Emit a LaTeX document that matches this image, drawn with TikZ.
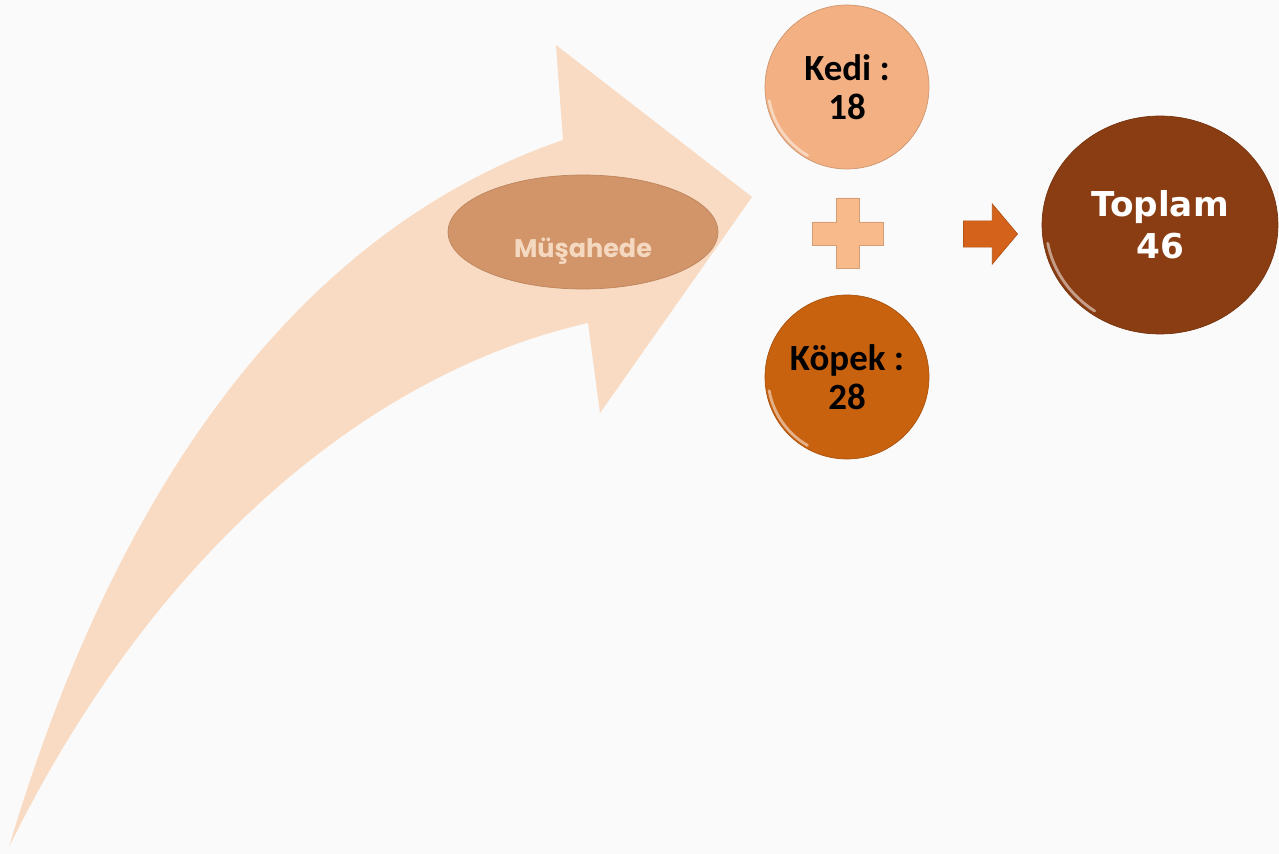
\documentclass[tikz,border=0pt]{standalone}
\usepackage{fontspec}
\usepackage{tikz}
\usetikzlibrary{positioning,shapes.geometric,shapes.arrows}
\newfontfamily\kedifont{Carlito}
\newfontfamily\sumfont{DejaVu Sans}
\newfontfamily\obsfont{Poppins}
\definecolor{bgpaper}{HTML}{FAFAFA}
\definecolor{bandpeach}{HTML}{F8DBC2}
\definecolor{obsfill}{HTML}{D29469}
\definecolor{obstext}{HTML}{F4D9C0}
\definecolor{catfill}{HTML}{F2B083}
\definecolor{dogfill}{HTML}{C9620F}
\definecolor{sumfill}{HTML}{8A3D12}
\definecolor{plusfill}{HTML}{F9BA8B}
\definecolor{eqfill}{HTML}{D4621A}

\begin{document}
\begin{tikzpicture}[
      x={(0.02cm,0)}, y={(0,-0.02cm)},
      part/.style={circle, minimum size=3.28cm, inner sep=0pt,
        align=center, font=\kedifont\bfseries\fontsize{21}{22}\selectfont},
      total/.style={ellipse, minimum width=4.72cm, minimum height=4.36cm,
        inner sep=0pt, align=center, text=white,
        font=\sumfont\bfseries\fontsize{19.5}{24}\selectfont},
      obs/.style={ellipse, minimum width=5.4cm, minimum height=2.28cm,
        fill=obsfill, draw=obsfill!90!black, text=obstext,
        text height=1.02cm, text depth=0pt,
        font=\obsfont\bfseries\fontsize{14.5}{16}\selectfont},
      eq/.style={single arrow, minimum height=1.08cm, minimum width=1.2cm,
        single arrow head extend=0.24cm, single arrow tip angle=100,
        inner xsep=0pt, inner ysep=0.18cm, fill=eqfill, draw=eqfill!85!black},
      gloss/.style={white, opacity=0.5, line width=1.6pt, line cap=round}]

    % page
    \fill[bgpaper] (0,0) rectangle (1279,854);
    \useasboundingbox (0,0) rectangle (1279,854);

    % big curved arrow
    \fill[bandpeach] (9,847) .. controls (130,440) and (330,220) .. (563,140)
      -- (556,45) -- (752,197) -- (600,413) -- (588,323)
      .. controls (380,370) and (160,540) .. (9,847) -- cycle;
    \node[obs] (obs) at (583,232) {Müşahede};

    % the two counts
    \node[part, fill=catfill, draw=catfill!85!black] (kedi) at (847,87)
      {Kedi :\\18};
    \node[part, fill=dogfill, draw=dogfill!85!black] (kopek) at (847,377)
      {Köpek :\\28};
    \draw[gloss] ([shift={(190:1.58cm)}]kedi.center)
      arc[start angle=190, end angle=240, radius=1.58cm];
    \draw[gloss] ([shift={(190:1.58cm)}]kopek.center)
      arc[start angle=190, end angle=240, radius=1.58cm];

    % plus between them
    \fill[plusfill, draw=plusfill!85!black, line width=0.3pt]
      (836,198) -- (859,198) -- (859,222) -- (883,222) -- (883,245)
      -- (859,245) -- (859,268) -- (836,268) -- (836,245) -- (812,245)
      -- (812,222) -- (836,222) -- cycle;

    % result
    \node[total, fill=sumfill, draw=sumfill!85!black] (sum) at (1160,225)
      {Toplam\\46};
    \draw[gloss] ([shift={(190:2.28cm and 2.1cm)}]sum.center)
      arc[start angle=190, end angle=235, x radius=2.28cm, y radius=2.1cm];
    \node[eq] (eq) at (985,234) {};
  \end{tikzpicture}
\end{document}
